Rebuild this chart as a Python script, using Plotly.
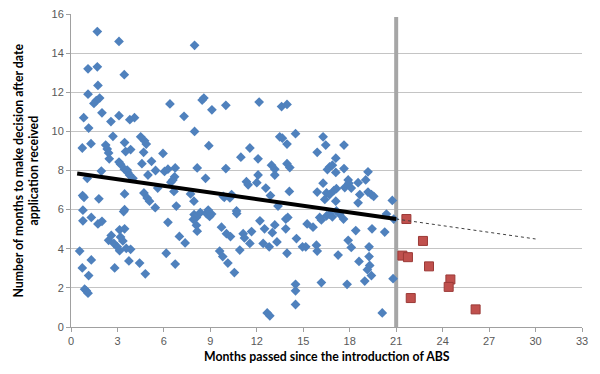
import plotly.graph_objects as go

# Blue diamonds: applications before ABS (months since introduction, months to decision)
before_x = [1.70, 3.1, 7.98, 1.1, 1.7, 3.44, 1.74, 1.1, 1.85, 1.63, 1.48, 6.39, 8.58, 8.47, 9.1, 10.0,
            0.82, 2.0, 3.1, 2.58, 3.8, 4.1, 7.3, 1.14, 7.98, 2.71, 4.5, 4.75, 4.86, 0.73, 1.29, 2.24,
            2.34, 3.46, 3.85, 3.53, 2.43, 2.47, 4.69, 5.94, 8.9, 3.1, 3.2, 4.58, 5.2, 1.96, 3.63, 5.46,
            6.04, 6.26, 6.73, 8.15, 10.0, 3.45, 3.67, 6.45,
            3.78, 4.0, 4.97, 6.69, 6.58, 1.05, 8.69, 0.84, 0.75, 1.8, 3.46, 4.71, 4.92, 5.07, 5.6, 6.65,
            7.72, 7.94, 9.9, 0.77, 3.46, 3.4, 5.44, 6.8, 7.95, 8.1, 8.35, 8.75, 8.95, 7.9, 8.1, 8.15,
            0.77, 1.31, 1.74, 2.0, 3.14, 3.46, 6.26, 7.0, 7.37, 9.72, 10.04, 10.3,
            2.6, 2.43, 2.77, 2.99, 3.14, 3.35, 3.57, 3.85, 3.2, 0.56, 1.31, 0.73, 1.14, 0.88, 0.99, 1.1,
            2.82, 3.74, 4.43, 4.8, 6.15, 6.73, 9.6, 9.8, 10.13, 10.55,
            11.33, 11.44, 12.08, 12.0, 12.58, 13.16, 12.88, 14.1, 13.37, 9.83, 10.26, 10.37, 8.86, 9.08,
            10.69, 10.7, 12.2, 11.12, 11.2, 11.66, 11.55, 12.5, 13.0, 13.16, 13.87, 14.0, 13.87, 12.41,
            12.8, 13.3, 14.56, 15.16, 10.9, 13.95, 14.5, 14.5, 14.5, 12.67, 12.84,
            12.15, 13.6, 13.95, 11.55, 10.97, 12.08, 13.48, 13.65, 14.5, 13.95, 12.95, 13.16, 13.95, 14.13,
            16.28, 16.45, 17.63, 15.9, 17.1, 16.7, 16.56, 16.88, 17.63, 19.18, 17.1, 17.9, 18.54, 19.03,
            16.28, 15.9, 16.5, 16.7, 16.97, 17.14, 16.39, 17.1, 17.94, 17.68, 18.1, 19.18, 19.4, 19.55,
            18.65, 18.54, 20.75, 15.85, 15.9, 16.06, 16.17, 16.5, 16.7, 17.14, 17.35, 17.6, 16.88,
            15.25, 15.63, 14.95, 17.25, 17.9, 18.1, 18.39, 19.25, 19.44, 20.26, 18.6, 19.25, 19.29,
            19.14, 19.4, 18.97, 17.83, 16.17, 20.8, 20.1, 20.84, 20.37]
before_y = [15.1, 14.6, 14.4, 13.2, 13.3, 12.9, 12.35, 11.9, 11.7, 11.57, 11.43, 11.4, 11.7, 11.6, 11.1, 11.33,
            10.7, 10.95, 10.8, 10.5, 10.6, 10.7, 10.77, 10.17, 10.0, 9.75, 9.72, 9.52, 9.35, 9.15, 9.37, 9.3,
            9.1, 9.43, 9.07, 8.97, 8.9, 8.6, 8.93, 8.87, 9.27, 8.43, 8.32, 8.35, 8.47, 7.97, 8.02, 8.0,
            7.95, 8.07, 8.13, 8.13, 8.1, 8.07, 7.9, 7.4,
            7.77, 7.6, 7.77, 7.68, 7.52, 7.6, 7.6, 6.63, 6.72, 6.55, 6.8, 6.85, 6.6, 6.43, 7.1, 6.93,
            6.8, 6.43, 6.63, 5.97, 6.0, 5.9, 6.1, 6.18, 5.75, 5.6, 5.85, 5.8, 5.65, 5.5, 5.2, 4.9,
            5.43, 5.6, 5.27, 5.4, 4.97, 5.02, 5.35, 4.63, 4.3, 5.1, 4.77, 4.62,
            4.68, 4.43, 4.27, 4.1, 3.9, 4.4, 4.02, 3.97, 4.6, 3.88, 3.43, 3.02, 2.63, 1.93, 1.85, 1.73,
            3.02, 3.38, 3.27, 2.72, 3.77, 3.22, 3.88, 3.6, 3.27, 2.78,
            7.43, 7.27, 7.77, 7.38, 7.1, 7.77, 6.72, 6.93, 6.18, 6.68, 6.6, 6.77, 5.98, 5.77,
            5.93, 5.8, 5.43, 4.77, 4.55, 4.88, 4.27, 5.02, 4.82, 5.22, 5.52, 5.6, 5.02, 4.27,
            4.1, 4.35, 4.52, 4.1, 3.93, 3.77, 2.18, 1.85, 1.15, 0.72, 0.57,
            11.5, 11.27, 11.38, 9.15, 8.68, 8.6, 9.72, 9.65, 9.88, 9.35, 8.27, 8.07, 8.35, 8.15,
            9.72, 9.3, 9.3, 8.93, 8.63, 8.18, 8.05, 8.27, 8.1, 7.93, 7.9, 7.52, 7.38, 7.52,
            7.35, 6.9, 6.85, 6.77, 6.97, 7.07, 6.52, 6.43, 7.35, 7.13, 7.1, 6.9, 6.77, 6.68,
            6.77, 6.35, 6.47, 4.18, 3.88, 5.6, 5.47, 5.68, 5.77, 5.93, 5.77, 5.52, 5.63,
            5.27, 5.1, 4.1, 3.68, 4.43, 4.07, 4.93, 4.1, 5.02, 4.85, 3.35, 3.6, 3.15,
            2.93, 2.63, 2.35, 2.18, 2.27, 2.47, 0.72, 5.52, 5.77]

# Red squares: applications after ABS
after_x = [21.66, 22.73, 21.4, 21.76, 23.12, 24.5, 24.39, 21.94, 26.13]
after_y = [5.52, 4.4, 3.65, 3.57, 3.1, 2.43, 2.05, 1.48, 0.9]

# Trend line (solid, fitted range) and its dotted extension
trend_x = [0.4, 21.0]
trend_y = [7.85, 5.52]
extension_x = [21.0, 30.0]
extension_y = [5.52, 4.5]

# Introduction-of-ABS reference
abs_month = 21

x_ticks = list(range(0, 34, 3))
y_ticks = list(range(0, 17, 2))

fig = go.Figure()
fig.add_trace(go.Scatter(x=before_x, y=before_y, mode="markers",
                         marker=dict(symbol="diamond", size=7.5, color="#4F81BD",
                                     line=dict(width=0)),
                         showlegend=False, hoverinfo="skip"))
fig.add_trace(go.Scatter(x=after_x, y=after_y, mode="markers",
                         marker=dict(symbol="square", size=9, color="#C0504D",
                                     line=dict(width=1, color="#9B3A37")),
                         showlegend=False, hoverinfo="skip"))
fig.add_trace(go.Scatter(x=trend_x, y=trend_y, mode="lines",
                         line=dict(color="black", width=4),
                         showlegend=False, hoverinfo="skip"))
fig.add_trace(go.Scatter(x=extension_x, y=extension_y, mode="lines",
                         line=dict(color="#404040", width=1, dash="dot"),
                         showlegend=False, hoverinfo="skip"))

fig.add_shape(type="line", xref="x", yref="y", x0=abs_month, x1=abs_month, y0=0, y1=15.85,
              line=dict(color="#A6A6A6", width=4), layer="between")

tick_font = dict(family="Liberation Sans, Arial, sans-serif", size=11, color="#595959")
title_font = dict(family="Lato, Liberation Sans, sans-serif", size=12.3, color="black")

fig.update_layout(
    width=600, height=374,
    margin=dict(l=71, r=18, t=8, b=47),
    paper_bgcolor="white", plot_bgcolor="white",
    xaxis=dict(range=[0, 33], tickvals=x_ticks, showgrid=False, zeroline=False,
               showline=True, linecolor="#A0A0A0", linewidth=1,
               ticks="outside", ticklen=4, tickcolor="#A0A0A0",
               tickfont=tick_font),
    yaxis=dict(range=[0, 16], tickvals=y_ticks, showgrid=True, gridcolor="#C4C4C4",
               gridwidth=1, zeroline=False,
               showline=True, linecolor="#A0A0A0", linewidth=1,
               ticks="outside", ticklen=4, tickcolor="#A0A0A0",
               tickfont=tick_font),
)

fig.add_annotation(text="<b>Months passed since the introduction of ABS</b>",
                   xref="paper", yref="paper", x=0.5, y=0, yshift=-29,
                   xanchor="center", yanchor="middle", showarrow=False, font=title_font)
fig.add_annotation(text="<b>Number of months to make decision after date<br>application received</b>",
                   xref="paper", yref="paper", x=0, xshift=-45, y=0.5,
                   xanchor="center", yanchor="middle", textangle=-90, showarrow=False,
                   font=title_font)

fig.write_html("out.html", config={"displayModeBar": False},
               post_script="document.body.style.margin='0';")
